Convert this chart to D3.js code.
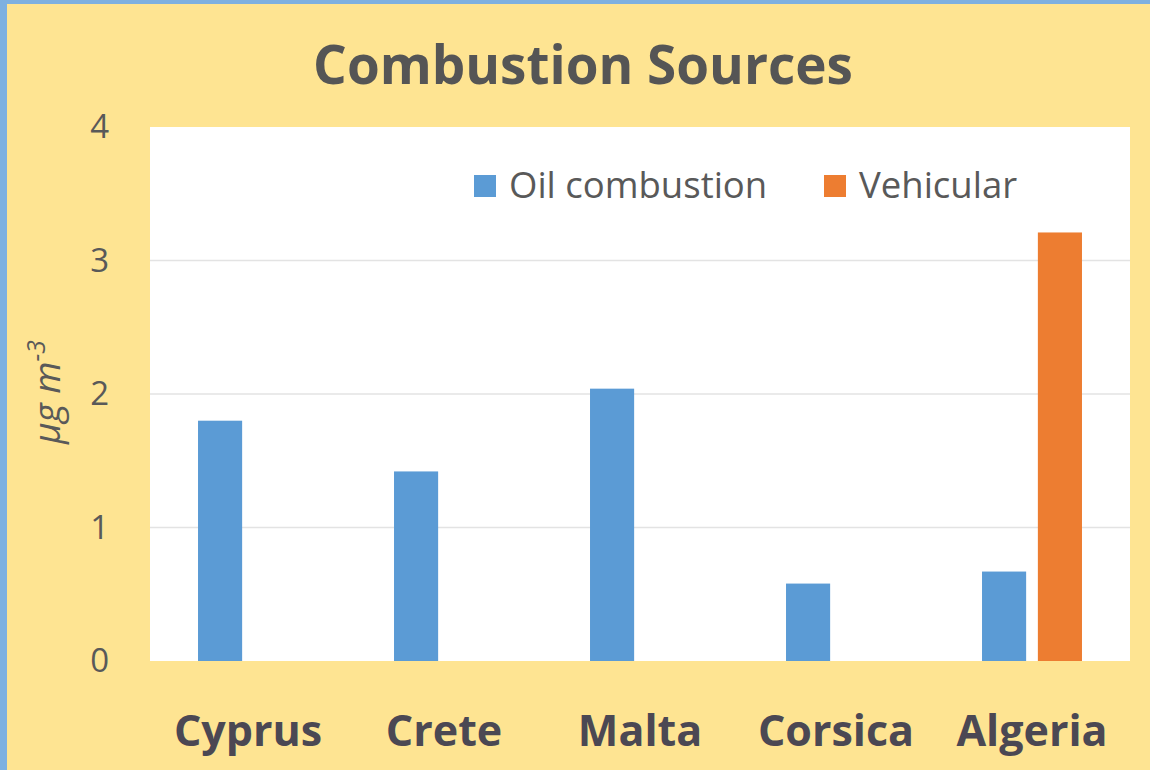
<!DOCTYPE html>
<html>
<head>
<meta charset="utf-8">
<script src="https://cdn.jsdelivr.net/npm/d3@7"></script>
<style>
  body { margin: 0; background: #fee492; }
  svg { display: block; }
</style>
</head>
<body>
<script>
// chart data
var categories = ["Cyprus", "Crete", "Malta", "Corsica", "Algeria"];
var seriesNames = ["Oil combustion", "Vehicular"];
var oilValues = [1.8, 1.42, 2.04, 0.58, 0.67];
var vehicularValues = [null, null, null, null, 3.21];
var yTicks = [0, 1, 2, 3, 4];

var width = 1150, height = 770;
var plot = {left: 150, right: 1130, top: 127, bottom: 661};
var colors = {"Oil combustion": "#5b9bd5", "Vehicular": "#ed7d31"};
var textcolor = "#595959";
var font = "'Open Sans', 'Noto Sans', sans-serif";

var svg = d3.select("body").append("svg")
    .attr("width", width)
    .attr("height", height);

// background + blue frame on left/top
svg.append("rect").attr("width", width).attr("height", height).attr("fill", "#fee492");
svg.append("rect").attr("x", 0).attr("y", 0).attr("width", 7).attr("height", height).attr("fill", "#7eb0e0");
svg.append("rect").attr("x", 0).attr("y", 0).attr("width", width).attr("height", 4).attr("fill", "#7eb0e0");

// plot area
svg.append("rect")
    .attr("x", plot.left).attr("y", plot.top)
    .attr("width", plot.right - plot.left).attr("height", plot.bottom - plot.top)
    .attr("fill", "#ffffff");

// scales
var x0 = d3.scaleBand().domain(categories)
    .range([plot.left, plot.right])
    .paddingInner(0.49).paddingOuter(0.245);
var x1 = d3.scaleBand().domain(seriesNames)
    .range([0, x0.bandwidth()])
    .paddingInner(0.21);
var y = d3.scaleLinear().domain([0, 4]).range([plot.bottom, plot.top]);

// gridlines
svg.append("g").selectAll("line")
    .data(yTicks.filter(function(d){ return d > 0 && d < 4; }))
    .enter().append("line")
    .attr("x1", plot.left).attr("x2", plot.right)
    .attr("y1", function(d){ return y(d); })
    .attr("y2", function(d){ return y(d); })
    .attr("stroke", "#e3e3e3")
    .attr("stroke-width", 1.5);

// y axis tick labels
var yAxis = d3.axisLeft(y).tickValues(yTicks).tickSize(0).tickPadding(0).tickFormat(d3.format("d"));
var yg = svg.append("g").attr("transform", "translate(" + (plot.left - 41) + ",0)").call(yAxis);
yg.select(".domain").remove();
yg.selectAll("text")
    .attr("font-family", font)
    .attr("font-size", 33)
    .attr("fill", textcolor);

// y axis title
var ylab = svg.append("text")
    .attr("transform", "translate(60," + 392 + ") rotate(-90)")
    .attr("text-anchor", "middle")
    .attr("font-family", font)
    .attr("font-size", 37)
    .attr("font-style", "italic")
    .attr("fill", textcolor);
ylab.append("tspan").text("\u00b5g m");
ylab.append("tspan").attr("dy", -15).attr("font-size", 25).text("-3");

// x axis category labels
var xAxis = d3.axisBottom(x0).tickSize(0).tickPadding(0);
var xg = svg.append("g").attr("transform", "translate(0," + (plot.bottom + 54) + ")").call(xAxis);
xg.select(".domain").remove();
xg.selectAll("text")
    .attr("font-family", font)
    .attr("font-size", 43)
    .attr("font-weight", "bold")
    .attr("fill", "#4b4853");

// bars
var rows = categories.map(function(c, i){
    return {category: c, values: [
        {series: "Oil combustion", value: oilValues[i]},
        {series: "Vehicular", value: vehicularValues[i]}
    ]};
});

var groups = svg.append("g").selectAll("g")
    .data(rows)
    .enter().append("g")
    .attr("transform", function(d){ return "translate(" + x0(d.category) + ",0)"; });

groups.selectAll("rect")
    .data(function(d){ return d.values.filter(function(v){ return v.value != null; }); })
    .enter().append("rect")
    .attr("x", function(d){ return x1(d.series); })
    .attr("y", function(d){ return y(d.value); })
    .attr("width", x1.bandwidth())
    .attr("height", function(d){ return y(0) - y(d.value); })
    .attr("fill", function(d){ return colors[d.series]; });

// title
svg.append("text")
    .attr("x", 583).attr("y", 84)
    .attr("text-anchor", "middle")
    .attr("font-family", font)
    .attr("font-size", 53)
    .attr("font-weight", "bold")
    .attr("fill", "#555555")
    .text("Combustion Sources");

// legend
var legendX = [474, 824];
var legend = svg.append("g").selectAll("g")
    .data(seriesNames)
    .enter().append("g")
    .attr("transform", function(d, i){ return "translate(" + legendX[i] + ",175)"; });
legend.append("rect")
    .attr("width", 22).attr("height", 22)
    .attr("fill", function(d){ return colors[d]; });
legend.append("text")
    .attr("x", 35).attr("y", 23)
    .attr("font-family", font)
    .attr("font-size", 36.5)
    .attr("fill", textcolor)
    .text(function(d){ return d; });
</script>
</body>
</html>
